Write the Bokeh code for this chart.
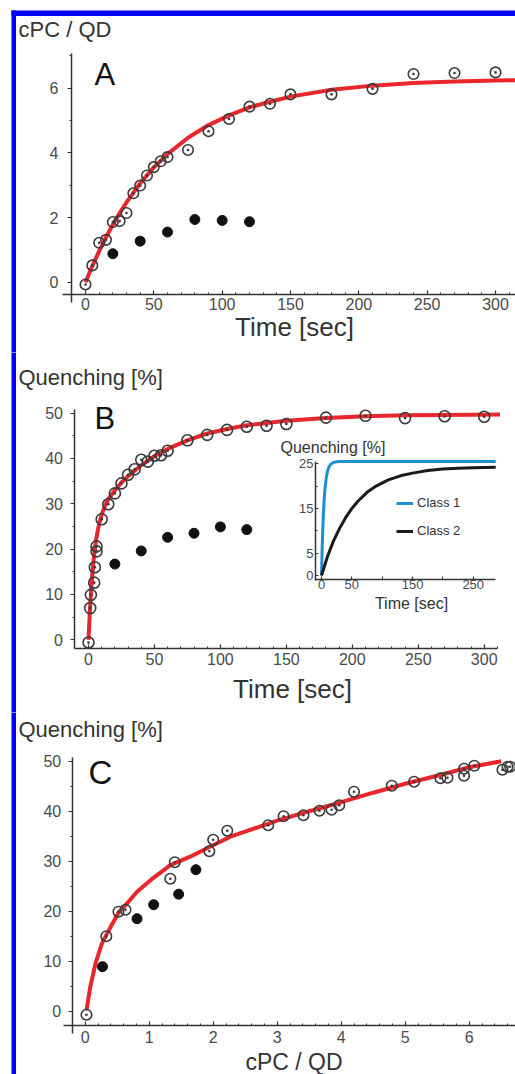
from bokeh.plotting import figure
from bokeh.models import (Range1d, FixedTicker, Label, Legend, LegendItem, LinearAxis,
                          BoxAnnotation, GlobalInlineStyleSheet)
from bokeh.layouts import column
from bokeh.embed import file_html
from bokeh.resources import INLINE

# ---------------- data ----------------
# Panel A : cPC/QD vs time
a_open_t = [0, 5, 10, 15, 20, 25, 30, 35, 40, 45, 50, 55, 60, 75, 90, 105, 120, 135, 150, 180, 210, 240, 270, 300]
a_open_y = [-0.07, 0.52, 1.22, 1.31, 1.86, 1.89, 2.14, 2.75, 2.99, 3.30, 3.56, 3.74, 3.87, 4.09, 4.67, 5.05,
            5.43, 5.52, 5.81, 5.81, 5.98, 6.44, 6.47, 6.49]
a_fill_t = [20, 40, 60, 80, 100, 120]
a_fill_y = [0.88, 1.27, 1.55, 1.94, 1.91, 1.87]
a_fit_t = [0, 5, 10, 15, 20, 25, 30, 40, 50, 60, 75, 90, 105, 120, 135, 150, 180, 210, 240, 270, 300, 316]
a_fit_y = [0, 0.50, 0.96, 1.39, 1.78, 2.14, 2.47, 3.06, 3.55, 3.96, 4.47, 4.86, 5.16, 5.41, 5.58, 5.74,
           5.95, 6.08, 6.16, 6.21, 6.24, 6.25]
a_xticks = [0, 50, 100, 150, 200, 250, 300]
a_yticks = [0, 2, 4, 6]

# Panel B : quenching vs time
b_open_t = [0, 1.3, 1.8, 4.3, 4.8, 6.1, 6.1, 10, 15, 20, 25, 30, 35, 40, 45, 50, 55, 60, 75, 90, 105, 120,
            135, 150, 180, 210, 240, 270, 300]
b_open_y = [-0.6, 7.0, 9.9, 12.6, 16.0, 19.5, 20.6, 26.6, 29.9, 32.3, 34.5, 36.4, 37.6, 39.7, 39.3, 40.6,
            40.7, 41.7, 44.0, 45.2, 46.3, 47.0, 47.2, 47.6, 49.0, 49.4, 48.9, 49.3, 49.2]
b_fill_t = [20, 40, 60, 80, 100, 120]
b_fill_y = [16.7, 19.6, 22.6, 23.5, 24.9, 24.3]
b_fit_t = [0, 1, 2, 3, 4, 5, 6, 8, 10, 12, 15, 20, 25, 30, 40, 50, 60, 75, 90, 105, 120, 150, 180, 210,
           240, 270, 312]
b_fit_y = [0, 6.1, 10.9, 14.8, 17.9, 20.4, 22.5, 25.5, 27.6, 29.2, 31.0, 33.0, 34.7, 36.1, 38.5, 40.5,
           42.1, 44.0, 45.5, 46.5, 47.3, 48.3, 48.9, 49.3, 49.5, 49.6, 49.7]
b_xticks = [0, 50, 100, 150, 200, 250, 300]
b_yticks = [0, 10, 20, 30, 40, 50]

# Inset of panel B : two quenching classes
inset_series = ["Class 1", "Class 2"]
c1_t = [0, 1, 2, 3, 4, 5, 6, 8, 10, 12, 15, 20, 25, 30, 40, 60, 100, 150, 200, 250, 287]
c1_y = [0, 5.6, 10.0, 13.5, 16.1, 18.2, 19.8, 22.0, 23.4, 24.2, 24.9, 25.3, 25.45, 25.5, 25.5, 25.5,
        25.5, 25.5, 25.5, 25.5, 25.5]
c2_t = [0, 10, 20, 30, 40, 50, 60, 75, 90, 110, 130, 150, 175, 200, 225, 250, 287]
c2_y = [0, 4.3, 7.8, 10.6, 13.0, 15.0, 16.6, 18.6, 20.0, 21.4, 22.3, 22.9, 23.5, 23.8, 24.0, 24.1, 24.2]
inset_xticks = [0, 50, 150, 250]
inset_xminor = [100, 200]
inset_yticks = [0, 5, 15, 25]
inset_yminor = [10, 20]

# Panel C : quenching vs cPC/QD
c_open_x = [0.02, 0.33, 0.52, 0.63, 1.33, 1.40, 1.94, 2.00, 2.22, 2.86, 3.10, 3.41, 3.66, 3.85, 3.97, 4.20,
            4.79, 5.14, 5.55, 5.66, 5.92, 5.92, 6.08, 6.52, 6.60, 6.64]
c_open_y = [-0.7, 15.0, 19.9, 20.3, 26.5, 29.8, 32.0, 34.3, 36.1, 37.2, 39.0, 39.2, 40.1, 40.3, 41.2, 43.9,
            45.1, 45.9, 46.6, 46.7, 47.1, 48.5, 49.1, 48.3, 48.9, 48.9]
c_fill_x = [0.27, 0.81, 1.07, 1.46, 1.73]
c_fill_y = [8.9, 18.5, 21.3, 23.4, 28.3]
c_fit_x = [0.02, 0.08, 0.16, 0.26, 0.34, 0.52, 0.65, 0.81, 1.02, 1.33, 1.64, 1.95, 2.27, 3.0, 3.5, 4.0,
           4.5, 5.0, 5.5, 6.0, 6.5]
c_fit_y = [0.2, 4.9, 9.5, 13.5, 15.5, 19.7, 21.5, 23.9, 26.2, 29.2, 30.9, 32.9, 34.9, 38.1, 40.0, 41.8,
           43.7, 45.5, 47.1, 48.8, 50.0]
c_xticks = [0, 1, 2, 3, 4, 5, 6]
c_yticks = [0, 10, 20, 30, 40, 50]

# ---------------- style ----------------
FONT = "Liberation Sans"
AXC = "#333333"
TXC = "#4a4a4a"
RED = "#e8262b"
BLUE = "#1f8fd3"
FRAME_BLUE = "#0000ff"
OPEN_C = "#3a3a3a"
PAGE_L, PAGE_R = 0, 515


def mapper(x0, sx, y0, sy):
    """page pixel -> data value for one panel (x0/y0: page pixel of data zero, sx/sy: px per unit)"""
    return (lambda px: (px - x0) / sx), (lambda py: (y0 - py) / sy)


def make_fig(fx, fy, top, bottom):
    p = figure(width=PAGE_R - PAGE_L, height=bottom - top,
               x_range=Range1d(fx(PAGE_L), fx(PAGE_R)), y_range=Range1d(fy(bottom), fy(top)),
               output_backend="svg", toolbar_location=None,
               min_border=0, min_border_left=0, min_border_right=0,
               min_border_top=0, min_border_bottom=0,
               background_fill_color="white", border_fill_color="white",
               outline_line_color=None)
    p.title.visible = False
    p.grid.visible = False
    return p


def style_axis(ax, size, is_x):
    ax.axis_line_color = AXC
    ax.axis_line_width = 1.5
    ax.major_tick_line_color = AXC
    ax.minor_tick_line_color = AXC
    ax.major_tick_line_width = 1.2
    ax.major_label_text_color = TXC
    ax.major_label_text_font = FONT
    ax.major_label_text_font_size = f"{size}px"
    if is_x:
        ax.major_tick_in, ax.major_tick_out = 4, 0
        ax.minor_tick_in, ax.minor_tick_out = 2, 0
    else:
        ax.major_tick_in, ax.major_tick_out = 0, 4
        ax.minor_tick_in, ax.minor_tick_out = 0, 2


def minor(ticks, n, hi):
    step = (ticks[1] - ticks[0]) / n
    out, v = [], ticks[0]
    while v <= hi + 1e-9:
        out.append(round(v, 6))
        v += step
    return out


def text(p, fx, fy, s, px, py, size, align="left", color="#333333"):
    p.add_layout(Label(x=fx(px), y=fy(py), text=s, text_font=FONT, text_font_size=f"{size}px",
                       text_color=color, text_align=align, text_baseline="middle"))


def left_bar(p, fx, fy, top, bottom):
    p.add_layout(BoxAnnotation(left=fx(11), right=fx(15.5), bottom=fy(bottom + 6), top=fy(top - 6),
                               fill_color=FRAME_BLUE, fill_alpha=1, line_color=None))


# ---------------- panel A ----------------
fxA, fyA = mapper(85, 1.3667, 281.7, 32.33)
pA = make_fig(fxA, fyA, 0, 352)
xa, ya = pA.xaxis[0], pA.yaxis[0]
xa.ticker = FixedTicker(ticks=a_xticks, minor_ticks=minor(a_xticks, 5, fxA(515)))
ya.ticker = FixedTicker(ticks=a_yticks, minor_ticks=minor(a_yticks, 2, fyA(53)))
style_axis(xa, 16, True)
style_axis(ya, 16, False)
xa.fixed_location, xa.bounds = fyA(294), (fxA(61.7), fxA(515))
ya.fixed_location, ya.bounds = fxA(71), (fyA(301.7), fyA(53))
xa.major_label_standoff = 3
ya.major_label_standoff = 9
pA.line(a_fit_t, a_fit_y, line_color=RED, line_width=4)
pA.scatter(a_fill_t, a_fill_y, marker="circle", size=10, fill_color="#111111", line_color="#111111")
pA.scatter(a_open_t, a_open_y, marker="circle_dot", size=10.5, fill_color=None,
           line_color=OPEN_C, line_width=1.6)
text(pA, fxA, fyA, "cPC / QD", 18, 28.5, 22)
text(pA, fxA, fyA, "A", 94, 73.5, 31, color="#111111")
text(pA, fxA, fyA, "Time [sec]", 294, 326, 26, align="center")
pA.add_layout(BoxAnnotation(left=fxA(11), right=fxA(15.5), bottom=fyA(358), top=fyA(10),
                            fill_color=FRAME_BLUE, fill_alpha=1, line_color=None))
pA.add_layout(BoxAnnotation(left=fxA(11), right=fxA(520), bottom=fyA(15.5), top=fyA(10),
                            fill_color=FRAME_BLUE, fill_alpha=1, line_color=None))

# ---------------- panel B ----------------
fxB, fyB = mapper(88.0, 1.319, 639.3, 4.534)
pB = make_fig(fxB, fyB, 352, 712)
xb, yb = pB.xaxis[0], pB.yaxis[0]
xb.ticker = FixedTicker(ticks=b_xticks, minor_ticks=minor(b_xticks, 5, fxB(497)))
yb.ticker = FixedTicker(ticks=b_yticks, minor_ticks=minor(b_yticks, 2, fyB(408.5)))
style_axis(xb, 16, True)
style_axis(yb, 16, False)
xb.fixed_location, xb.bounds = fyB(648), (fxB(73.5), fxB(497))
yb.fixed_location, yb.bounds = fxB(73.5), (fyB(648), fyB(408.5))
xb.major_label_standoff = 4
yb.major_label_standoff = 7
pB.line(b_fit_t, b_fit_y, line_color=RED, line_width=4)
pB.scatter(b_fill_t, b_fill_y, marker="circle", size=10, fill_color="#111111", line_color="#111111")
pB.scatter(b_open_t, b_open_y, marker="circle_dot", size=11, fill_color=None,
           line_color=OPEN_C, line_width=1.6)
text(pB, fxB, fyB, "Quenching [%]", 18, 376.5, 22)
text(pB, fxB, fyB, "B", 94, 418, 31, color="#111111")
text(pB, fxB, fyB, "Time [sec]", 292, 688.5, 26, align="center")
left_bar(pB, fxB, fyB, 352, 712)

# inset in B, on its own ranges
fxI, fyI = mapper(321, 0.607, 575, 4.47)
pB.extra_x_ranges = {"ix": Range1d(fxI(PAGE_L), fxI(PAGE_R))}
pB.extra_y_ranges = {"iy": Range1d(fyI(712), fyI(352))}
r1 = pB.line(c1_t, c1_y, x_range_name="ix", y_range_name="iy", line_color=BLUE, line_width=3)
r2 = pB.line(c2_t, c2_y, x_range_name="ix", y_range_name="iy", line_color="#1a1a1a", line_width=3)
inx = LinearAxis(x_range_name="ix", y_range_name="iy", fixed_location=fyI(579),
                 bounds=(fxI(315), fxI(495)),
                 ticker=FixedTicker(ticks=inset_xticks, minor_ticks=inset_xminor))
style_axis(inx, 13, True)
inx.major_tick_in, inx.minor_tick_in = 3, 3
inx.major_label_standoff = 0
pB.add_layout(inx, "below")
iny = LinearAxis(x_range_name="ix", y_range_name="iy", fixed_location=fxI(315),
                 bounds=(fyI(580), fyI(461)),
                 ticker=FixedTicker(ticks=inset_yticks, minor_ticks=inset_yminor))
style_axis(iny, 13, False)
iny.major_tick_in, iny.major_tick_out = 3, 0
iny.minor_tick_in, iny.minor_tick_out = 2, 0
iny.major_label_standoff = 2
pB.add_layout(iny, "left")
text(pB, fxB, fyB, "Quenching [%]", 280, 447, 16)
text(pB, fxB, fyB, "Time [sec]", 411, 603, 16, align="center")
leg = Legend(items=[LegendItem(label=inset_series[0], renderers=[r1]),
                    LegendItem(label=inset_series[1], renderers=[r2])],
             location=(396, 174), background_fill_alpha=0, border_line_color=None,
             padding=0, margin=0, spacing=13, glyph_width=17, glyph_height=14,
             label_height=14, label_standoff=4,
             label_text_font=FONT, label_text_font_size="13px", label_text_color="#333333")
pB.add_layout(leg)

# ---------------- panel C ----------------
fxC, fyC = mapper(84.7, 64.0, 1010.7, 5.0)
pC = make_fig(fxC, fyC, 712, 1074)
xc, yc = pC.xaxis[0], pC.yaxis[0]
xc.ticker = FixedTicker(ticks=c_xticks, minor_ticks=minor(c_xticks, 5, fxC(515)))
yc.ticker = FixedTicker(ticks=c_yticks, minor_ticks=minor(c_yticks, 2, fyC(757)))
style_axis(xc, 16, True)
style_axis(yc, 16, False)
xc.fixed_location, xc.bounds = fyC(1025), (fxC(63.3), fxC(515))
yc.fixed_location, yc.bounds = fxC(71.7), (fyC(1033), fyC(757))
xc.major_label_standoff = 5
yc.major_label_standoff = 7
pC.line(c_fit_x, c_fit_y, line_color=RED, line_width=4)
pC.scatter(c_fill_x, c_fill_y, marker="circle", size=10, fill_color="#111111", line_color="#111111")
pC.scatter(c_open_x, c_open_y, marker="circle_dot", size=10.5, fill_color=None,
           line_color=OPEN_C, line_width=1.6)
text(pC, fxC, fyC, "Quenching [%]", 18, 729, 22)
text(pC, fxC, fyC, "C", 88, 772, 33, color="#111111")
text(pC, fxC, fyC, "cPC / QD", 293.5, 1061.5, 23, align="center")
left_bar(pC, fxC, fyC, 712, 1074)

root = column(pA, pB, pC)
root.stylesheets = [GlobalInlineStyleSheet(css="html, body { overflow: hidden; }")]

open("out.html", "w").write(file_html(root, INLINE))
